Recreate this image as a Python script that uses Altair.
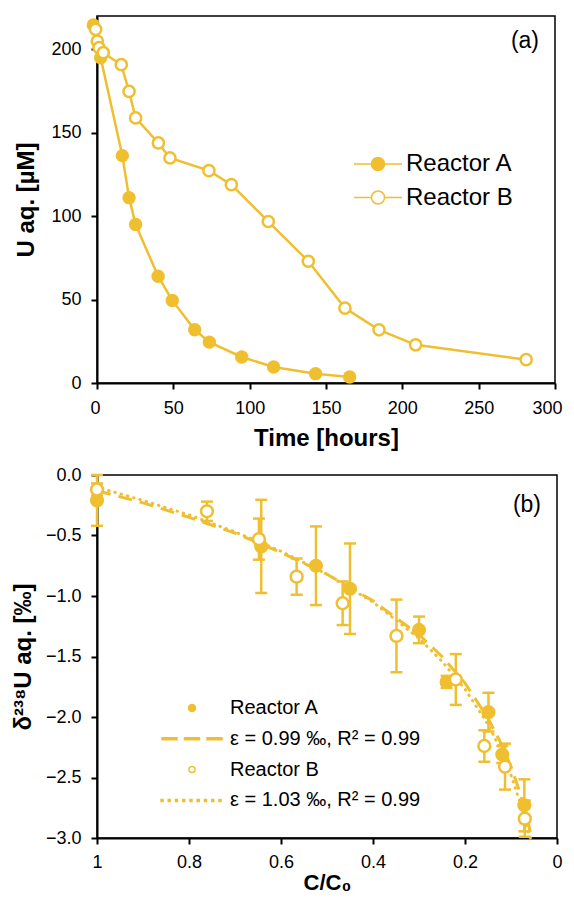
import altair as alt
import pandas as pd

GOLD = "#F0BF30"
FONT = "Liberation Sans"

# ---------------- Panel (a): U aq. vs time ----------------
time_a = [-2.4, 2.4, 16.6, 21.0, 25.3, 40.0, 49.3, 64.0, 73.6, 94.8, 115.7, 143.2, 165.5]
u_a = [214.6, 195.0, 136.3, 111.1, 95.0, 64.0, 49.5, 31.9, 24.5, 15.6, 9.6, 5.6, 3.6]
time_b = [-0.9, 0.2, 1.3, 4.1, 15.9, 21.0, 25.3, 40.2, 47.8, 73.3, 88.0, 112.2,
          138.4, 162.4, 184.7, 208.7, 281.1]
u_b = [212.0, 205.0, 201.0, 198.0, 190.8, 174.8, 158.9, 143.9, 134.9, 127.3, 118.9,
       96.8, 73.0, 44.9, 31.9, 22.9, 14.0]
legend_a = ["Reactor A", "Reactor B"]

# ---------------- Panel (b): delta238U vs C/C0 ----------------
f_a = [1.0, 0.643, 0.524, 0.450, 0.300, 0.240, 0.149, 0.119, 0.071]
d_a = [-0.21, -0.59, -0.75, -0.94, -1.28, -1.71, -1.96, -2.31, -2.73]
e_a = [0.21, 0.385, 0.325, 0.374, 0.11, 0.05, 0.16, 0.07, 0.215]

f_b = [1.0, 0.761, 0.648, 0.566, 0.466, 0.349, 0.220, 0.158, 0.113, 0.070]
d_b = [-0.12, -0.30, -0.53, -0.84, -1.06, -1.33, -1.69, -2.24, -2.41, -2.84]
e_b = [0.05, 0.08, 0.17, 0.15, 0.18, 0.30, 0.21, 0.13, 0.19, 0.15]

fit_f = [1.0, 0.9, 0.8, 0.7, 0.6, 0.5, 0.4, 0.3, 0.25, 0.2, 0.15, 0.12, 0.1, 0.08, 0.065, 0.058]
fit_a = [-0.13, -0.23, -0.35, -0.48, -0.64, -0.82, -1.04, -1.32, -1.50, -1.72, -2.01,
         -2.23, -2.41, -2.63, -2.84, -2.95]
fit_b = [-0.10, -0.21, -0.33, -0.47, -0.63, -0.82, -1.05, -1.35, -1.54, -1.77, -2.06,
         -2.29, -2.48, -2.71, -2.92, -3.0]
legend_b = ["Reactor A", "ε = 0.99 ‰, R² = 0.99", "Reactor B", "ε = 1.03 ‰, R² = 0.99"]

# ---------------- frames ----------------
dfa_a = pd.DataFrame({"t": time_a, "u": u_a, "i": range(len(time_a))})
dfa_b = pd.DataFrame({"t": time_b, "u": u_b, "i": range(len(time_b))})

dfb_a = pd.DataFrame({"f": f_a, "d": d_a, "lo": [d - e for d, e in zip(d_a, e_a)],
                      "hi": [d + e for d, e in zip(d_a, e_a)]})
dfb_b = pd.DataFrame({"f": f_b, "d": d_b, "lo": [d - e for d, e in zip(d_b, e_b)],
                      "hi": [d + e for d, e in zip(d_b, e_b)]})
fit_df_a = pd.DataFrame({"f": fit_f, "d": fit_a})
fit_df_b = pd.DataFrame({"f": fit_f, "d": fit_b})


def axis(values, title, fmt=None, label_pad=6, title_pad=8, flush=False, flush_off=0,
         title_size=22):
    kw = dict(values=values, title=title, grid=False, tickSize=6, tickWidth=2,
              tickColor="black", domainColor="black", domainWidth=2,
              labelFont=FONT, labelFontSize=18, labelColor="black",
              labelPadding=label_pad, titleFont=FONT, titleFontSize=title_size,
              titleFontWeight="bold", titleColor="black", titlePadding=title_pad,
              labelFlush=flush, labelOverlap=False)
    if flush:
        kw["labelFlushOffset"] = flush_off
    if fmt:
        kw["format"] = fmt
    return alt.Axis(**kw)


# ---------- top panel ----------
xa = alt.X("t:Q", scale=alt.Scale(domain=[0, 300], nice=False),
           axis=axis([0, 50, 100, 150, 200, 250, 300], "Time [hours]", label_pad=10,
                     title_pad=9, flush=True, flush_off=7, title_size=24))
ya = alt.Y("u:Q", scale=alt.Scale(domain=[0, 220], nice=False),
           axis=axis([0, 50, 100, 150, 200], "U aq. [µM]", label_pad=10, title_pad=12,
                     title_size=24))

line_a = alt.Chart(dfa_a).mark_line(color=GOLD, strokeWidth=2.5).encode(x=xa, y=ya, order="i:Q")
pts_a = alt.Chart(dfa_a).mark_circle(color=GOLD, size=180, opacity=1).encode(x=xa, y=ya)
line_b = alt.Chart(dfa_b).mark_line(color=GOLD, strokeWidth=2.5).encode(x=xa, y=ya, order="i:Q")
pts_b = alt.Chart(dfa_b).mark_point(shape="circle", size=125, filled=True, fill="white",
                                     stroke=GOLD, strokeWidth=2.5, opacity=1).encode(x=xa, y=ya)

# legend symbols: line with circle (unit = 10 px)
sym_top = ("M-3.8,0L-2.05,0M-0.75,0L1,0"
           "M-0.75,0A0.65,0.65 0 1 1 -2.05,0A0.65,0.65 0 1 1 -0.75,0Z")
leg_top = alt.Legend(title=None, orient="none", legendX=283, legendY=136, padding=0,
                     labelFont=FONT, labelFontSize=24, labelColor="black", labelOffset=2,
                     symbolSize=400, rowPadding=9.5, symbolOpacity=1, labelLimit=400)
legend_layer_a = alt.Chart(dfa_a).transform_filter("false").transform_calculate(
    leg="'Reactor A'").mark_point(opacity=1, stroke=GOLD, strokeWidth=2.5).encode(
    x=xa, y=ya,
    shape=alt.Shape("leg:N", scale=alt.Scale(domain=legend_a, range=[sym_top, sym_top]),
                    legend=leg_top),
    fill=alt.Fill("leg:N", scale=alt.Scale(domain=legend_a, range=[GOLD, "white"]),
                  legend=leg_top),
)

top = alt.layer(line_a, line_b, pts_a, pts_b, legend_layer_a).properties(
    width=458, height=367,
    title=alt.TitleParams("(a)", anchor="end", orient="top", frame="group", offset=-37, dx=-16,
                          font=FONT, fontSize=23, fontWeight="normal", color="black"),
)

# ---------- bottom panel ----------
xb = alt.X("f:Q", scale=alt.Scale(domain=[0, 1], reverse=True, nice=False),
           axis=axis([0, 0.2, 0.4, 0.6, 0.8, 1.0], "C/C₀", fmt="~g", label_pad=9, title_pad=1))
yb = alt.Y("d:Q", scale=alt.Scale(domain=[-3, 0], nice=False),
           axis=axis([-3, -2.5, -2, -1.5, -1, -0.5, 0], "δ²³⁸U aq. [‰]", fmt=".1f",
                     label_pad=10, title_pad=10, title_size=24))


def errbars(df):
    stem = alt.Chart(df).mark_rule(color=GOLD, strokeWidth=2.5).encode(
        x=alt.X("f:Q"), y=alt.Y("lo:Q"), y2="hi:Q")
    cap_lo = alt.Chart(df).mark_tick(orient="horizontal", size=12, thickness=2.5,
                                     color=GOLD, opacity=1).encode(x="f:Q", y="lo:Q")
    cap_hi = alt.Chart(df).mark_tick(orient="horizontal", size=12, thickness=2.5,
                                     color=GOLD, opacity=1).encode(x="f:Q", y="hi:Q")
    return [stem, cap_lo, cap_hi]


fit_line_a = alt.Chart(fit_df_a).mark_line(color=GOLD, strokeWidth=3, strokeDash=[14, 8]).encode(
    x=xb, y=yb, order="f:Q")
fit_line_b = alt.Chart(fit_df_b).mark_line(color=GOLD, strokeWidth=3, strokeDash=[0.5, 6],
                                           strokeCap="round").encode(x=xb, y=yb, order="f:Q")
bpts_a = alt.Chart(dfb_a).mark_circle(color=GOLD, size=200, opacity=1).encode(x=xb, y=yb)
bpts_b = alt.Chart(dfb_b).mark_point(shape="circle", size=140, filled=True, fill="white",
                                      stroke=GOLD, strokeWidth=2.5, opacity=1).encode(x=xb, y=yb)

dots = "".join(f"M{x - 0.1:.2f},-0.1H{x + 0.1:.2f}V0.1H{x - 0.1:.2f}Z"
               for x in [-5 + k * 0.725 for k in range(9)])
sym_b = [
    "M-1.65,0A0.35,0.35 0 1 1 -2.35,0A0.35,0.35 0 1 1 -1.65,0Z",
    "M-5,-0.1H-3.5V0.1H-5ZM-2.75,-0.1H-1.25V0.1H-2.75ZM-0.5,-0.1H1V0.1H-0.5Z",
    "M-1.7,0A0.3,0.3 0 1 1 -2.3,0A0.3,0.3 0 1 1 -1.7,0Z",
    dots,
]
leg_bot = alt.Legend(title=None, orient="none", legendX=104, legendY=222, padding=0,
                     labelFont=FONT, labelFontSize=20, labelColor="black", labelOffset=7,
                     symbolSize=400, rowPadding=9.8, symbolOpacity=1, labelLimit=400)
legend_layer_b = alt.Chart(dfb_a).transform_filter("false").transform_calculate(
    legb="'Reactor A'").mark_point(opacity=1, stroke=GOLD, strokeWidth=1.5).encode(
    x=xb, y=yb,
    shape=alt.Shape("legb:N", scale=alt.Scale(domain=legend_b, range=sym_b), legend=leg_bot),
    fill=alt.Fill("legb:N", scale=alt.Scale(domain=legend_b, range=[GOLD, GOLD, "white", GOLD]),
                  legend=leg_bot),
)

bottom = alt.layer(
    fit_line_a, fit_line_b, *errbars(dfb_a), bpts_a, *errbars(dfb_b), bpts_b, legend_layer_b
).properties(
    width=460, height=363,
    title=alt.TitleParams("(b)", anchor="end", orient="top", frame="group", offset=-51, dx=-16,
                          font=FONT, fontSize=23, fontWeight="normal", color="black"),
)

chart = alt.vconcat(top, bottom, spacing=14).resolve_scale(
    shape="independent", fill="independent").resolve_legend(
    shape="independent", fill="independent").properties(
    padding={"left": 2, "top": 7, "right": 2, "bottom": 0}
).configure_view(stroke="black", strokeWidth=1.5)

chart.save("out.html", embed_options={"renderer": "svg", "actions": False})
